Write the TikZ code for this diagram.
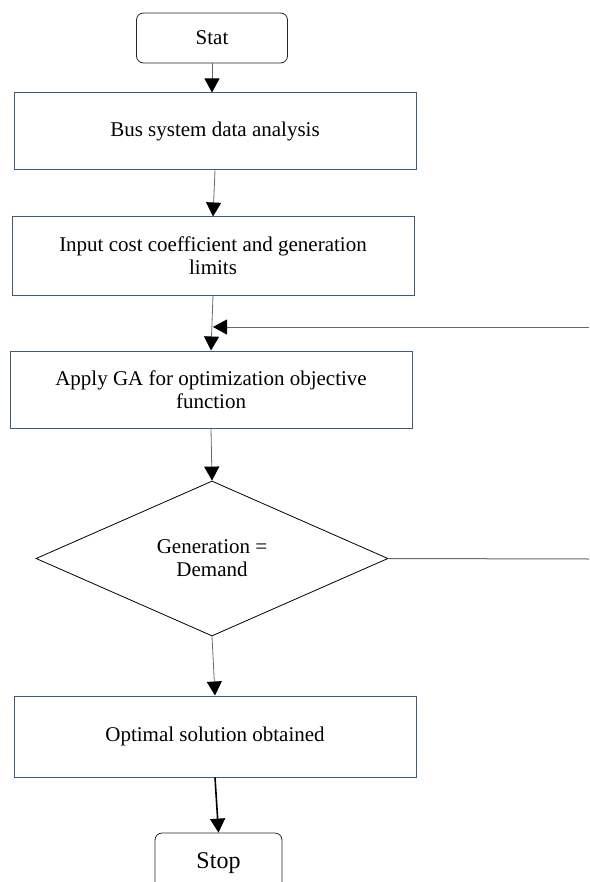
\documentclass[tikz,border=0pt]{standalone}
\usepackage{fontspec}
\setmainfont{Liberation Serif}
\usepackage{tikz}
\usetikzlibrary{shapes.geometric,arrows.meta}
\definecolor{boxblue}{RGB}{66,90,122}
\definecolor{linegray}{RGB}{105,105,105}

\begin{document}
\begin{tikzpicture}[x=1pt,y=-1pt]
        \tikzstyle{every node}=[font=\fontsize{21}{23}\selectfont, align=center, inner sep=0pt];
        \tikzstyle{term}=[draw=black!85, rounded corners=7pt, line width=0.8pt, minimum width=151pt, minimum height=50pt];
        \tikzstyle{procbox}=[draw=boxblue, line width=1pt, minimum width=402pt, minimum height=77pt];
        \tikzstyle{decision}=[draw=black, diamond, line width=0.8pt, minimum width=352pt, minimum height=155pt];
        \tikzstyle{arr}=[draw=linegray, line width=0.8pt, -{Triangle[length=14pt,width=15pt,color=black]}];
        \tikzstyle{plain}=[draw=linegray, line width=1pt];
        \useasboundingbox (0,0) rectangle (589,882);
        \node[term] (stat) at (212,38) {Stat};
        \node[procbox] (bus) at (215,131.5) {Bus system data analysis};
        \node[procbox, minimum height=78pt] (input) at (213,256) {Input cost coefficient and generation\\limits};
        \node[procbox] (apply) at (211,389.5) {Apply GA for optimization objective\\function};
        \node[decision] (dec) at (212,558.5) {Generation =\\Demand};
        \node[procbox, minimum height=81pt] (opt) at (215,736.5) {Optimal solution obtained};
        \node[term, minimum width=127pt, minimum height=60pt, font=\fontsize{24}{26}\selectfont] (stop) at (218.5,863) {Stop};
        \coordinate (fb) at (589,327);
        \coordinate (no) at (589,559);
        \draw[arr] (stat.south) -- (stat.south |- bus.north);
        \draw[arr] (bus.south) -- (input.north);
        \draw[arr] (input.south) -- (apply.north);
        \draw[arr] (fb) -- (fb -| input.south);
        \draw[arr] (apply.south) -- (dec.north);
        \draw[plain] (dec.east) -- (no);
        \draw[arr] (dec.south) -- (opt.north);
        \draw[arr, draw=black, line width=1.6pt] (opt.south) -- (stop.north);
    \end{tikzpicture}
\end{document}
